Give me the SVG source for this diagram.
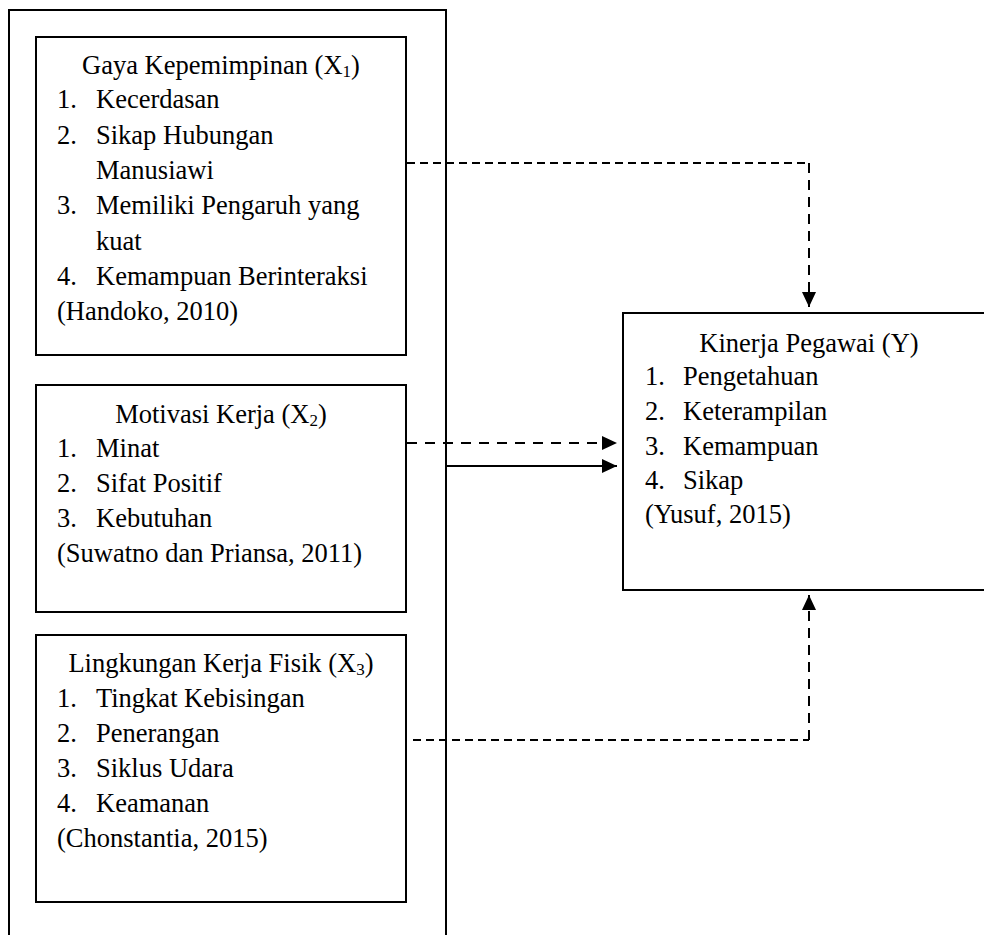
<svg xmlns="http://www.w3.org/2000/svg" width="984" height="935" viewBox="0 0 984 935">
<style>
  .box { fill: none; stroke: #000; stroke-width: 2; }
  text { font-family: 'Liberation Serif', 'DejaVu Serif', serif; font-size: 26.5px; fill: #000; }
  .t { text-anchor: middle; }
  .sub { font-size: 17px; }
  .ln { fill: none; stroke: #000; stroke-width: 2; }
  .d1 { stroke-dasharray: 8 5; }
  .d2 { stroke-dasharray: 10 8; }
  .dv { stroke-dasharray: 10 7; }
</style>
<defs>
  <marker id="ah" viewBox="0 0 15 14" refX="15" refY="7" markerWidth="15" markerHeight="14" markerUnits="userSpaceOnUse" orient="auto">
    <path d="M0,0 L15,7 L0,14 Z" fill="#000"/>
  </marker>
</defs>
<rect width="984" height="935" fill="#fff"/>
<g id="outer">
  <rect class="box" x="9" y="10" width="437" height="940"/>
</g>
<g font-family="Liberation Serif, serif">
<g id="x1">
  <rect class="box" x="36" y="37" width="370" height="318"/>
  <text class="t" x="221" y="74">Gaya Kepemimpinan (X<tspan class="sub" dy="3">1</tspan><tspan dy="-3">)</tspan></text>
  <text x="57" y="108">1.</text><text x="96" y="108">Kecerdasan</text>
  <text x="57" y="144">2.</text><text x="96" y="144">Sikap Hubungan</text>
  <text x="96" y="179">Manusiawi</text>
  <text x="57" y="214">3.</text><text x="96" y="214">Memiliki Pengaruh yang</text>
  <text x="96" y="250">kuat</text>
  <text x="57" y="285">4.</text><text x="96" y="285">Kemampuan Berinteraksi</text>
  <text x="57" y="320">(Handoko, 2010)</text>
</g>
<g id="x2">
  <rect class="box" x="36" y="385" width="370" height="227"/>
  <text class="t" x="221" y="423">Motivasi Kerja (X<tspan class="sub" dy="3">2</tspan><tspan dy="-3">)</tspan></text>
  <text x="57" y="457">1.</text><text x="96" y="457">Minat</text>
  <text x="57" y="492">2.</text><text x="96" y="492">Sifat Positif</text>
  <text x="57" y="527">3.</text><text x="96" y="527">Kebutuhan</text>
  <text x="57" y="562">(Suwatno dan Priansa, 2011)</text>
</g>
<g id="x3">
  <rect class="box" x="36" y="635" width="370" height="267"/>
  <text class="t" x="221" y="672">Lingkungan Kerja Fisik (X<tspan class="sub" dy="3">3</tspan><tspan dy="-3">)</tspan></text>
  <text x="57" y="707">1.</text><text x="96" y="707">Tingkat Kebisingan</text>
  <text x="57" y="742">2.</text><text x="96" y="742">Penerangan</text>
  <text x="57" y="777">3.</text><text x="96" y="777">Siklus Udara</text>
  <text x="57" y="812">4.</text><text x="96" y="812">Keamanan</text>
  <text x="57" y="847">(Chonstantia, 2015)</text>
</g>
<g id="y">
  <rect class="box" x="623" y="313" width="372" height="277"/>
  <text class="t" x="809" y="352">Kinerja Pegawai (Y)</text>
  <text x="645" y="385">1.</text><text x="683" y="385">Pengetahuan</text>
  <text x="645" y="420">2.</text><text x="683" y="420">Keterampilan</text>
  <text x="645" y="455">3.</text><text x="683" y="455">Kemampuan</text>
  <text x="645" y="489">4.</text><text x="683" y="489">Sikap</text>
  <text x="645" y="523">(Yusuf, 2015)</text>
</g>
</g>
<g id="connectors">
  <polyline class="ln d1" points="407,163 809,163"/>
  <polyline class="ln dv" points="809,163 809,307" marker-end="url(#ah)"/>
  <line class="ln d2" x1="407" y1="443" x2="617" y2="443" marker-end="url(#ah)"/>
  <line class="ln" x1="446" y1="466" x2="617" y2="466" marker-end="url(#ah)"/>
  <polyline class="ln d1" points="413,740 809,740"/>
  <polyline class="ln dv" points="809,740 809,595" marker-end="url(#ah)"/>
</g>
</svg>
